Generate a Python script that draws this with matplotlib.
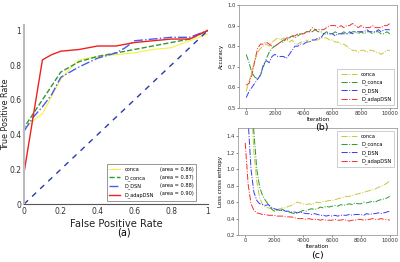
import matplotlib
matplotlib.use('Agg')
import matplotlib.pyplot as plt
from matplotlib.lines import Line2D
import numpy as np

# ROC curves (panel a)
conca_fpr = [0, 0, 0.05, 0.1, 0.15, 0.2, 0.25, 0.3, 0.4, 0.5, 0.6, 0.7, 0.8, 0.9, 1.0]
conca_tpr = [0, 0.43, 0.48, 0.52, 0.62, 0.72, 0.78, 0.83, 0.85, 0.86, 0.87, 0.89, 0.90, 0.94, 0.98]
dconca_fpr = [0, 0, 0.1, 0.2, 0.3, 0.4, 0.5, 0.6, 0.7, 0.8, 0.9, 1.0]
dconca_tpr = [0, 0.44, 0.60, 0.76, 0.82, 0.85, 0.87, 0.89, 0.91, 0.93, 0.95, 1.0]
dsn_fpr = [0, 0, 0.05, 0.1, 0.15, 0.2, 0.3, 0.4, 0.5, 0.55, 0.6, 0.7, 0.8, 0.9, 1.0]
dsn_tpr = [0, 0.42, 0.50, 0.56, 0.63, 0.73, 0.79, 0.84, 0.87, 0.90, 0.94, 0.95, 0.96, 0.96, 1.0]
adap_fpr = [0, 0, 0.1, 0.15, 0.2, 0.3, 0.4, 0.5, 0.55, 0.6, 0.7, 0.8, 0.9, 1.0]
adap_tpr = [0, 0.18, 0.83, 0.86, 0.88, 0.89, 0.91, 0.91, 0.92, 0.93, 0.94, 0.95, 0.95, 1.0]
areas = ['0.86', '0.87', '0.88', '0.90']
names = ['conca', 'D_conca', 'D_DSN', 'D_adapDSN']

# training curves (panels b and c), every 200 iterations
iters = np.arange(0, 10001, 200)
acc_conca = [0.58, 0.63, 0.68, 0.73, 0.77, 0.79, 0.80, 0.81, 0.80, 0.82, 0.83, 0.84, 0.83, 0.84, 0.83, 0.82, 0.83,
             0.81, 0.81, 0.82, 0.82, 0.83, 0.82, 0.83, 0.83, 0.83, 0.84, 0.84, 0.84, 0.83, 0.83, 0.82, 0.82, 0.81,
             0.81, 0.80, 0.79, 0.78, 0.78, 0.77, 0.78, 0.78, 0.77, 0.78, 0.78, 0.77, 0.77, 0.76, 0.77, 0.78, 0.78]
acc_dconca = [0.76, 0.72, 0.67, 0.65, 0.64, 0.66, 0.70, 0.74, 0.77, 0.79, 0.80, 0.81, 0.82, 0.83, 0.83, 0.84, 0.85,
              0.84, 0.85, 0.86, 0.86, 0.87, 0.87, 0.89, 0.88, 0.87, 0.87, 0.86, 0.87, 0.86, 0.86, 0.87, 0.86, 0.86,
              0.87, 0.86, 0.86, 0.87, 0.87, 0.86, 0.87, 0.86, 0.87, 0.87, 0.86, 0.87, 0.87, 0.86, 0.86, 0.87, 0.86]
acc_dsn = [0.55, 0.58, 0.60, 0.62, 0.64, 0.66, 0.71, 0.73, 0.72, 0.75, 0.76, 0.75, 0.75, 0.75, 0.74, 0.76, 0.78,
           0.80, 0.80, 0.81, 0.81, 0.82, 0.82, 0.83, 0.83, 0.84, 0.84, 0.86, 0.86, 0.86, 0.86, 0.85, 0.86, 0.86,
           0.86, 0.86, 0.87, 0.86, 0.87, 0.87, 0.87, 0.87, 0.88, 0.87, 0.87, 0.87, 0.88, 0.87, 0.88, 0.88, 0.88]
acc_adap = [0.61, 0.62, 0.66, 0.73, 0.79, 0.81, 0.81, 0.82, 0.81, 0.80, 0.80, 0.81, 0.82, 0.82, 0.84, 0.84, 0.85,
            0.85, 0.86, 0.86, 0.86, 0.87, 0.87, 0.87, 0.88, 0.88, 0.88, 0.88, 0.89, 0.90, 0.90, 0.90, 0.89, 0.90,
            0.89, 0.90, 0.90, 0.91, 0.90, 0.89, 0.90, 0.89, 0.89, 0.89, 0.90, 0.89, 0.89, 0.89, 0.90, 0.90, 0.91]
loss_conca = [3.0, 2.5, 1.9, 1.2, 0.85, 0.65, 0.57, 0.54, 0.53, 0.52, 0.52, 0.51, 0.52, 0.53, 0.53, 0.55, 0.56,
              0.58, 0.60, 0.59, 0.58, 0.57, 0.58, 0.57, 0.59, 0.60, 0.59, 0.61, 0.61, 0.62, 0.62, 0.63, 0.64, 0.65,
              0.66, 0.67, 0.67, 0.68, 0.69, 0.70, 0.71, 0.72, 0.73, 0.74, 0.75, 0.76, 0.78, 0.79, 0.81, 0.83, 0.86]
loss_dconca = [3.0, 2.6, 2.0, 1.45, 1.0, 0.78, 0.68, 0.62, 0.57, 0.52, 0.49, 0.50, 0.50, 0.51, 0.49, 0.48, 0.47,
               0.46, 0.47, 0.48, 0.50, 0.49, 0.51, 0.52, 0.51, 0.52, 0.54, 0.53, 0.55, 0.54, 0.55, 0.56, 0.55, 0.57,
               0.56, 0.57, 0.58, 0.57, 0.59, 0.58, 0.58, 0.60, 0.59, 0.60, 0.61, 0.60, 0.62, 0.63, 0.64, 0.65, 0.67]
loss_dsn = [2.5, 1.6, 1.0, 0.72, 0.62, 0.58, 0.57, 0.56, 0.57, 0.54, 0.52, 0.51, 0.50, 0.50, 0.49, 0.49, 0.48,
            0.48, 0.47, 0.48, 0.47, 0.46, 0.46, 0.45, 0.46, 0.45, 0.44, 0.44, 0.43, 0.44, 0.43, 0.44, 0.43, 0.44,
            0.44, 0.44, 0.45, 0.44, 0.45, 0.45, 0.45, 0.44, 0.46, 0.45, 0.46, 0.46, 0.47, 0.46, 0.47, 0.48, 0.49]
loss_adap = [1.32, 0.82, 0.58, 0.50, 0.47, 0.46, 0.45, 0.45, 0.44, 0.44, 0.44, 0.43, 0.43, 0.43, 0.42, 0.42, 0.42,
             0.41, 0.40, 0.40, 0.40, 0.39, 0.40, 0.39, 0.39, 0.39, 0.38, 0.39, 0.38, 0.38, 0.38, 0.39, 0.38, 0.38,
             0.39, 0.38, 0.37, 0.38, 0.38, 0.39, 0.39, 0.38, 0.39, 0.39, 0.40, 0.39, 0.39, 0.40, 0.39, 0.39, 0.38]

fig = plt.figure(figsize=(4, 2.62), dpi=100)

# ---- panel (a): ROC
ax = fig.add_axes([0.06, 0.221, 0.46, 0.683])
ax.plot(conca_fpr, conca_tpr, color='#f5f044', lw=0.8, label='conca')
ax.plot(dconca_fpr, dconca_tpr, color='#2e9a2e', lw=1.0, ls='--', label='D_conca')
ax.plot(dsn_fpr, dsn_tpr, color='#4a5cf0', lw=1.0, ls='-.', label='D_DSN')
ax.plot(adap_fpr, adap_tpr, color='#f02020', lw=1.0, label='D_adapDSN')
ax.plot([0, 1], [0, 1], color='#2a3aa8', lw=1.0, ls=(0, (4, 4)))
ax.set_xlim(0, 1)
ax.set_ylim(0, 1.03)
ticks = [0, 0.2, 0.4, 0.6, 0.8, 1]
ax.set_xticks(ticks)
ax.set_xticklabels(['0', '0.2', '0.4', '0.6', '0.8', '1'])
ax.set_yticks(ticks)
ax.set_yticklabels(['0', '0.2', '0.4', '0.6', '0.8', '1'])
ax.tick_params(labelsize=5.5, length=0, pad=2, colors='#333333')
for s in ['top', 'right']:
    ax.spines[s].set_visible(False)
ax.spines['left'].set_color('#bbbbbb')
ax.spines['left'].set_linewidth(1.5)
ax.spines['bottom'].set_color('#555555')
ax.set_xlabel('False Positive Rate', fontsize=7.2, labelpad=2, color='#222222')
ax.set_ylabel('True Positive Rate', fontsize=5.8, color='#222222')
ax.yaxis.set_label_coords(-0.077, 0.5)
h, l = ax.get_legend_handles_labels()
blank = [Line2D([], [], alpha=0) for _ in areas]
leg = ax.legend(h + blank, names + ['(area = %s)' % a for a in areas], ncol=2, loc='lower right',
                fontsize=3.6, frameon=True, fancybox=False, edgecolor='#666666', handlelength=2.2,
                handletextpad=0.9, columnspacing=-1.9, labelspacing=0.6, borderpad=0.5,
                bbox_to_anchor=(0.951, 0.006))
leg.get_frame().set_linewidth(0.6)
fig.text(0.31, 0.111, '(a)', fontsize=7, ha='center', va='center')

cols = ['#c8c83a', '#2a9a2a', '#3a3af0', '#f03030']


def train_panel(rect, series, ylim, yticks, ylabel, legloc):
    a = fig.add_axes(rect)
    for y, c, n in zip(series, cols, names):
        a.plot(iters, y, color=c, lw=0.7, ls='-.', label=n)
    a.set_xlim(-500, 10500)
    a.set_ylim(*ylim)
    a.set_yticks(yticks)
    a.set_xticks([0, 2000, 4000, 6000, 8000, 10000])
    a.tick_params(labelsize=3.8, length=1.5, width=0.4, pad=1, colors='#333333')
    for s in a.spines.values():
        s.set_linewidth(0.5)
        s.set_color('#888888')
    a.set_xlabel('Iteration', fontsize=4.0, labelpad=0.5)
    a.set_ylabel(ylabel, fontsize=4.0, labelpad=2)
    lg = a.legend(loc=legloc, fontsize=3.7, fancybox=False, edgecolor='#aaaaaa', handlelength=3.2,
                  labelspacing=0.55, borderpad=0.6)
    lg.get_frame().set_linewidth(0.5)
    return a


train_panel([0.5975, 0.588, 0.395, 0.393], [acc_conca, acc_dconca, acc_dsn, acc_adap],
            (0.5, 1.0), [0.5, 0.6, 0.7, 0.8, 0.9, 1.0], 'Accuracy', 'lower right')
fig.text(0.804, 0.513, '(b)', fontsize=6.8, ha='center', va='center')

train_panel([0.595, 0.103, 0.3975, 0.408], [loss_conca, loss_dconca, loss_dsn, loss_adap],
            (0.2, 1.5), [0.2, 0.4, 0.6, 0.8, 1.0, 1.2, 1.4], 'Loss cross entropy', 'upper right')
fig.text(0.795, 0.026, '(c)', fontsize=6.8, ha='center', va='center')

fig.savefig('out.png', dpi=100)
